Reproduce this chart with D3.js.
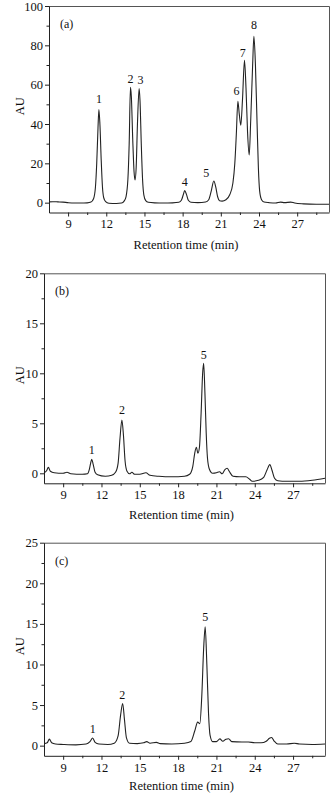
<!DOCTYPE html>
<html>
<head>
<meta charset="utf-8">
<script src="https://cdn.jsdelivr.net/npm/d3@7"></script>
<style>
  body { margin: 0; background: #fff; }
  svg { display: block; }
  svg text { font-family: "Liberation Serif", "Times New Roman", serif; }
</style>
</head>
<body>
<div id="chart"></div>
<script>
// retention time (min), AU
const traceA = [
  [7.5, 0.4], [7.8, 0.5], [8.2, 0.4], [8.6, 0.3], [9.0, 0.0], [9.5, -0.2], [10.0, -0.2],
  [10.5, -0.1], [10.8, 0.3], [11.0, 2], [11.15, 8], [11.25, 20], [11.35, 38], [11.42, 47.4],
  [11.5, 40], [11.6, 22], [11.7, 8], [11.8, 2.5], [11.95, 0.5], [12.2, -0.3], [12.8, -0.4],
  [13.2, -0.2], [13.4, 0.8], [13.55, 3], [13.7, 12], [13.8, 30], [13.9, 58.6], [13.97, 54],
  [14.08, 32], [14.18, 16], [14.26, 11.5], [14.35, 18], [14.45, 40], [14.58, 58], [14.65, 52],
  [14.75, 30], [14.85, 12], [14.95, 4], [15.1, 1], [15.3, 0.2], [15.8, -0.1], [16.5, -0.2],
  [17.2, -0.1], [17.7, 0.2], [17.9, 1.2], [18.05, 4], [18.16, 6.1], [18.3, 4.2], [18.45, 1.2],
  [18.65, 0.2], [19.2, 0], [19.8, 0.3], [20.05, 1.5], [20.25, 6], [20.45, 11], [20.6, 8],
  [20.75, 3], [20.9, 1], [21.1, 0.8], [21.4, 1.5], [21.7, 4], [21.95, 10], [22.1, 20],
  [22.22, 35], [22.34, 51.6], [22.45, 45], [22.57, 39.4], [22.7, 52], [22.86, 72.4], [22.98, 58],
  [23.1, 36], [23.23, 24.2], [23.35, 42], [23.5, 70], [23.6, 84.6], [23.72, 70], [23.85, 40],
  [23.95, 18], [24.05, 6], [24.2, 1.5], [24.4, 0.3], [24.8, 0], [25.3, -0.2], [25.7, 0.3],
  [26.0, 0], [26.5, 0.3], [26.8, -0.2], [27.5, -0.6], [28.5, -0.8], [29.5, -0.8]
];

const traceB = [
  [7.5, 0.05], [7.7, 0.25], [7.84, 0.6], [8.0, 0.2], [8.3, 0.05], [9.0, 0.0], [9.3, 0.1],
  [9.6, -0.05], [10.5, -0.1], [10.9, -0.05], [11.05, 0.4], [11.15, 1.0], [11.24, 1.4],
  [11.35, 0.9], [11.5, 0.1], [11.7, -0.15], [12.3, -0.3], [12.8, -0.2], [13.1, 0.1], [13.3, 1],
  [13.45, 3.5], [13.6, 5.33], [13.72, 3.8], [13.85, 1.2], [14.0, 0.2], [14.2, -0.05],
  [14.38, 0.1], [14.6, -0.1], [15.0, -0.1], [15.48, 0.05], [15.8, -0.2], [16.5, -0.3],
  [17.5, -0.35], [18.5, -0.3], [18.9, -0.1], [19.15, 0.7], [19.3, 2.0], [19.43, 2.6],
  [19.55, 2.0], [19.67, 2.6], [19.8, 6], [19.92, 10], [20.0, 11.0], [20.1, 8], [20.2, 4],
  [20.3, 1.5], [20.45, 0.4], [20.7, 0.0], [21.0, 0.05], [21.24, 0.15], [21.45, -0.05],
  [21.65, 0.35], [21.84, 0.5], [22.0, 0.2], [22.3, -0.3], [22.8, -0.35], [23.3, -0.35],
  [23.6, -0.6], [23.8, -0.8], [24.3, -0.7], [24.7, -0.4], [24.95, 0.3], [25.18, 0.87],
  [25.35, 0.3], [25.55, -0.5], [25.8, -0.75], [26.5, -0.8], [27.5, -0.8], [28.5, -0.7], [29.5, -0.5]
];

const traceC = [
  [7.5, 0.25], [7.75, 0.35], [7.92, 0.8], [8.1, 0.35], [8.4, 0.2], [9.0, 0.15], [10.0, 0.1],
  [10.8, 0.2], [11.1, 0.5], [11.31, 0.95], [11.5, 0.4], [11.8, 0.2], [12.5, 0.15], [13.0, 0.3],
  [13.3, 1.2], [13.5, 3.8], [13.66, 5.2], [13.8, 3.2], [13.95, 1], [14.2, 0.3], [14.8, 0.25],
  [15.3, 0.35], [15.54, 0.5], [15.8, 0.3], [16.3, 0.4], [16.6, 0.25], [17.5, 0.2], [18.5, 0.3],
  [19.0, 0.5], [19.3, 1.8], [19.53, 2.9], [19.7, 2.7], [19.85, 6], [20.0, 12], [20.12, 14.65],
  [20.25, 10], [20.38, 4], [20.5, 1.3], [20.7, 0.5], [21.0, 0.5], [21.27, 0.83], [21.5, 0.55],
  [21.75, 0.8], [21.95, 0.85], [22.2, 0.5], [23.0, 0.45], [23.5, 0.45], [24.0, 0.35],
  [24.5, 0.35], [24.9, 0.55], [25.15, 0.9], [25.32, 1.0], [25.5, 0.6], [25.8, 0.2], [26.5, 0.2],
  [27.1, 0.3], [27.5, 0.2], [28.5, 0.15], [29.5, 0.2]
];

// peak numbers: [label, time, AU at label centre]
const peaksA = [["1", 11.42, 52.6], ["2", 13.9, 62.8], ["3", 14.68, 62.3], ["4", 18.16, 10.7],
  ["5", 19.85, 15.2], ["6", 22.23, 56.9], ["7", 22.73, 76.3], ["8", 23.6, 90.2]];
const peaksB = [["1", 11.24, 2.3], ["2", 13.6, 6.3], ["5", 20.0, 11.8]];
const peaksC = [["1", 11.31, 2.0], ["2", 13.63, 6.3], ["5", 20.12, 15.9]];

const timeDomain = [7.5, 29.5];
const timeTicks = [9, 12, 15, 18, 21, 24, 27];
const timeMinor = [10.5, 13.5, 16.5, 19.5, 22.5, 25.5, 28.5];

const panels = [
  { tag: "(a)", trace: traceA, peaks: peaksA, yDomain: [-5, 100],
    yTicks: [0, 20, 40, 60, 80, 100], yMinor: [10, 30, 50, 70, 90],
    left: 49, right: 329, top: 6, bottom: 212.5, xLabelY: 249 },
  { tag: "(b)", trace: traceB, peaks: peaksB, yDomain: [-1, 20],
    yTicks: [0, 5, 10, 15, 20], yMinor: [2.5, 7.5, 12.5, 17.5],
    left: 44, right: 325, top: 273.3, bottom: 483.3, xLabelY: 519 },
  { tag: "(c)", trace: traceC, peaks: peaksC, yDomain: [-1.25, 25],
    yTicks: [0, 5, 10, 15, 20, 25], yMinor: [2.5, 7.5, 12.5, 17.5, 22.5],
    left: 44, right: 325, top: 542.7, bottom: 755.8, xLabelY: 790 }
];

const svg = d3.select("#chart").append("svg")
  .attr("width", 331)
  .attr("height", 794);

panels.forEach(p => {
  const x = d3.scaleLinear().domain(timeDomain).range([p.left, p.right]);
  const y = d3.scaleLinear().domain(p.yDomain).range([p.bottom, p.top]);
  const g = svg.append("g");

  // frame on top and right
  g.append("path")
    .attr("d", `M${p.left},${p.top + 0.5}H${p.right + 0.5}V${p.bottom}`)
    .attr("fill", "none")
    .attr("stroke", "#555")
    .attr("stroke-width", 1);

  g.append("g")
    .attr("transform", `translate(0,${p.bottom})`)
    .call(d3.axisBottom(x).tickValues(timeTicks).tickSize(4).tickSizeOuter(0).tickPadding(3));
  g.append("g")
    .attr("transform", `translate(0,${p.bottom})`)
    .call(d3.axisBottom(x).tickValues(timeMinor).tickSize(2.5).tickFormat("").tickSizeOuter(0))
    .select(".domain").remove();

  g.append("g")
    .attr("transform", `translate(${p.left},0)`)
    .call(d3.axisLeft(y).tickValues(p.yTicks).tickSize(4).tickSizeOuter(0).tickPadding(2));
  g.append("g")
    .attr("transform", `translate(${p.left},0)`)
    .call(d3.axisLeft(y).tickValues(p.yMinor).tickSize(2.5).tickFormat("").tickSizeOuter(0))
    .select(".domain").remove();

  // axes use the serif face too
  g.selectAll("g").attr("font-family", null).attr("font-size", null);
  g.selectAll(".tick text").style("font-size", "12.5px").attr("fill", "#111");
  g.selectAll(".domain, .tick line").attr("stroke", "#222");

  const line = d3.line()
    .x(d => x(d[0]))
    .y(d => y(d[1]))
    .curve(d3.curveMonotoneX);

  g.append("path")
    .datum(p.trace)
    .attr("d", line)
    .attr("fill", "none")
    .attr("stroke", "#222")
    .attr("stroke-width", 1.1)
    .attr("stroke-linejoin", "round");

  g.selectAll(".peak")
    .data(p.peaks)
    .join("text")
    .attr("class", "peak")
    .attr("x", d => x(d[1]))
    .attr("y", d => y(d[2]))
    .attr("text-anchor", "middle")
    .attr("dominant-baseline", "central")
    .style("font-size", "12px")
    .attr("fill", "#111")
    .text(d => d[0]);

  g.append("text")
    .attr("x", p.left + 11)
    .attr("y", p.top + 18)
    .attr("dominant-baseline", "central")
    .style("font-size", "12px")
    .attr("fill", "#111")
    .text(p.tag);

  g.append("text")
    .attr("x", (p.left + p.right) / 2 - 3)
    .attr("y", p.xLabelY)
    .attr("text-anchor", "middle")
    .style("font-size", "12.5px")
    .attr("fill", "#111")
    .text("Retention time (min)");

  g.append("text")
    .attr("transform", `translate(20,${y(p.yDomain[1] * 0.49)}) rotate(-90)`)
    .attr("text-anchor", "middle")
    .attr("dominant-baseline", "central")
    .style("font-size", "12.5px")
    .attr("fill", "#111")
    .text("AU");
});
</script>
</body>
</html>
